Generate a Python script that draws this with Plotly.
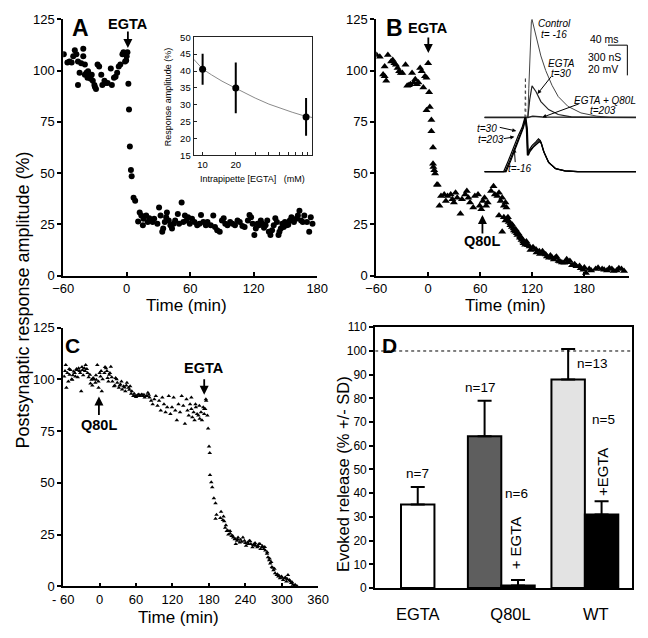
import plotly.graph_objects as go

W, H = 648, 638
def px(x): return x / W
def py(y): return 1 - y / H

FONT = "Liberation Sans, Arial, sans-serif"

# ---------------- DATA ----------------
# Panel A : EGTA wash-in (time in min, response amplitude %)
A_time = [-59.4,-56,-54,-52,-50.5,-49,-47.5,-46,-46,-44.5,-43,-41,-41,-39.5,-39.5,-38,-37,-36.5,-35,-34,
          -33,-32,-30.5,-30,-29,-27.5,-26,-24,-23,-21,-20,-18,-15,-14,-12,-10.5,-9,-7.5,-6,-4,
          -3,-1.5,-0.5,0,0.7,1.6,
          2.2,3,4,4.7,6.5,8,
          10.8,12.3,13.8,15.3,15.9,18.4,19.9,21.4,24.5,26,29,30.6,32,33.6,34.5,36,37.3,38,39.7,41.3,
          42.8,44.3,45.8,48.3,49.5,51.9,53.5,55,56.5,58,59.6,61.7,64,66.6,68.7,70.2,72.4,74.8,76.3,79.4,
          81.8,83.4,85.5,87.9,90,91.6,93.1,95.2,97.7,100,102.3,104.7,106.8,109.3,111.4,114.5,116,117.5,119,120.6,
          122,123.6,125,126.7,128.2,129.7,131.2,132.8,134.3,135.8,137.3,138.9,140.4,141.9,143.4,144.3,145.6,147,148.3,149.5,
          151,152.6,154.1,155.6,158,160.2,161.7,163.2,164.7,166.3,167.8,170.3,172.4,173.9,175.5]
A_amp = [108,104,104.5,104,107,110,108,104.5,93,99,103.6,110.7,107,103,98,99,96.5,99.7,97,96,
         98,95,93,92,91,103,102,98,93,95,94,94,101,93,96.5,97,99,102,103,108,
         109,104.5,105,107,109,93.6,
         81,63,51.5,48.5,38,36.5,
         26.4,30.8,29.3,24.5,27.7,29.3,26.1,28,26.1,27.7,25.3,33.2,29.3,21.4,22.9,26.1,28.5,30.8,26.9,24.5,
         22.9,25.3,26.9,30,25.3,35.6,26.1,29.3,26.9,28.5,25.3,27.7,26.1,24.5,25.3,29.6,26.1,24.5,26.1,24.5,
         29.3,23.7,22.1,21.4,26.9,28,25.3,24.5,26.1,25.3,24.5,26.9,26.1,24.2,23.7,26.9,29.6,28.5,25.3,19.8,
         22.9,25.3,24.5,26.9,25.3,23.3,24.5,26.9,21.4,19.8,22.1,24.5,28,26.1,19.8,21.4,22.9,25.3,23.7,26.1,
         24.5,24.8,26.9,28.5,26.1,27.7,29.3,31.6,26.9,26.1,29.3,26.1,21.4,28.5,25.3]

# Panel A inset: response amplitude vs intrapipette EGTA (mM)
A_ins_egta = [10, 20, 87]
A_ins_amp = [40.5, 35, 26.4]
A_ins_sd = [4.6, 7.5, 5.6]
A_fit_egta = [8.3, 10, 12, 15, 20, 30, 40, 50, 65, 80, 100]
A_fit_amp = [43.5, 40.6, 38.9, 37, 34.9, 32, 30.2, 29, 27.8, 26.9, 26.2]

# Panel B : EGTA then Q80L
B_time = [-59.5,-55.8,-50.2,-52,-50.2,-48.4,-46.5,-42.8,-40.9,-39,-37.2,-35.3,-33.5,-31.6,-29.8,-26.1,-24.2,-22.3,-20.5,-18.6,
          -16.7,-14.9,-13,-11.2,-9.3,-7.5,-5.6,-3.7,-1.9,0,1.1,-1.9,1.9,3.7,3.7,5.6,
          5.6,6,7,8,10,
          11.1,14.8,13,18.5,20.4,22.3,26,27.9,29.7,31.6,33.5,37.2,39,42.7,44.6,46.4,48.3,52,53.9,57.5,
          59.4,61.3,63.1,65,66.9,68.7,72.5,75.4,76.9,79.8,81.7,83.6,85.4,87.3,89.2,90.3,81.7,85.4,87.3,89.2,
          91,92.9,94.8,96.6,98.5,100.4,102.2,104,105.9,107.7,109.6,113.3,117,120.7,124.4,128.2,131.9,135.6,139.4,143,
          146.7,150.5,154.2,159.8,163.5,169,174.6,180.2,185.8,193.2,200.7,206.3,211.9,217.4,223,
          92,95,97,99,101,103,106,108,110,112,115,118,121,125,129,133,137,141,145,148,
          152,157,161,166,171,176,179,182,188,196,203,209,214,220,226]
B_amp = [107.6,106.8,102,98.1,97.3,95,107.6,104.4,105.2,103.6,102.9,101.3,99.7,98.9,98.9,102.9,92.6,92.9,93.4,98.9,
         94.2,95.8,93.4,94.2,101.3,99.7,91.8,97.3,96.5,103.6,89.4,80.7,82.3,75.9,70.4,62.5,
         54.6,53,51.4,49.8,44.3,
         44.3,38.8,34,39.6,36.4,38.8,39.6,37.2,35.6,40.4,38,30.1,37.2,39.6,41.2,38,35.6,33.2,38.8,39.6,
         34,32.4,36.4,38,34,35.6,41.2,43.6,39.6,38.8,40.4,36.4,38,34,35.6,33.2,29.3,21.4,28.5,26.9,
         27.7,26.1,24.5,23.7,22.9,21.4,20.6,20.6,19,17.4,16.6,16.6,14.2,13.4,12.7,11.9,11.9,10.3,8.7,8.7,
         8.7,7.1,6.3,7.9,7.1,5.5,4.7,3.9,3.2,3.2,3.2,2.4,3.2,2.4,3.2,
         28.5,25.5,24.8,22,22.5,19.8,18.5,18.2,15.8,15,14.8,12.5,13.8,11.2,10.5,10.8,9.3,9.8,7.8,9.2,
         6.8,6.2,6.5,5,4.5,3.5,2.8,1.2,2.5,3.8,2.8,3.5,2.2,3.6,2.2]

# Panel B inset: conductance traces (ms, nS)
ctrl_ms = [0, 90, 92, 94.7, 97.3, 98.7, 103, 110, 117, 127, 140, 153, 173, 200, 233, 260, 314]
ctrl_nS = [0, 0, 290, 708, 950, 973, 886, 740, 611, 466, 320, 207, 110, 45, 13, 0, 0]
egta_ms = [0, 90, 94, 98.7, 107, 117, 133, 153, 180, 220, 314]
egta_nS = [0, 0, 180, 313, 255, 158, 78, 29, 5, 0, 0]
q80l_ms = [0, 90, 100, 120, 314]
q80l_nS = [0, 0, 12, 4, 0]
artifact_ms = [84, 85, 86]
artifact_nS = [0, 400, 0]
# presynaptic voltage traces (ms, mV)
v16_ms = [0,40,50,60,70,78,84,87,89,92,99,106,112,116,122,132,146,166,192,314]
v16_mV = [-70,-70,-62.5,-53.8,-46.3,-40.9,-34.2,-41.9,-59.2,-56,-52.7,-50.5,-48.4,-49.5,-56,-63.5,-67.8,-69.5,-70,-70]
v30_ms = [0,43,53,63,73,80,85,88,90,93,100,107,113,117,123,133,147,167,193,314]
v30_mV = [-70,-70,-62.5,-53.8,-46.3,-40.9,-34.2,-41.9,-59.2,-56.5,-53.5,-51.3,-49.5,-50.5,-57,-64,-68,-69.6,-70,-70]
v203_ms = [0,45,55,65,75,81,86,89,91,94,101,108,114,118,124,134,148,168,194,314]
v203_mV = [-70,-70,-62.5,-53.8,-46.3,-40.9,-34.2,-41.9,-59.2,-57,-54,-52,-50.3,-51.2,-57.5,-64.3,-68.2,-69.6,-70,-70]
SB_MS, SB_NS, SB_MV = 40, 300, 20

# Panel C : Q80L then EGTA
C_time = [-58.4,-55.7,-54.7,-51.5,-49.4,-47.8,-45.1,-42.5,-39.8,-37.2,-34.5,-31.9,-30.3,-28.2,-25,-22.9,-19.7,-16,-13.3,-10.7,
          -7,-5.4,-3.8,-1.7,1.5,3.6,7.9,10.5,13.2,15.8,18.5,21.1,23.8,26.4,29.1,31.7,34.4,37.1,39.7,42.4,
          45,47.7,50.3,53,55.6,58.3,61,63.6,66.2,68.9,71.5,74.2,76.8,79.5,82.1,84.8,87.4,90.1,92.7,95.4,
          98,100.7,103.3,106,108.6,111.3,113.9,116.6,119.2,121.9,124.6,127.2,129.9,132.5,135.2,137.8,140.5,143.1,144.7,146.8,
          149,151.1,152.7,154.8,156.4,158.5,160.6,162.7,164.9,167,168.6,170.7,172.3,173.9,175.5,164.3,151.1,157.9,
          -57,-53,-50,-46,-44,-41,-38,-36,-33,-29,-27,-24,-21,-18,-15,-12,-9,-6,-2,0,
          2.5,5,9,12,14.5,17,20,25,28,33,36,41,44,49,52,57,60,65,70,73,78,81,
          175,172.3,177.5,178.7,180.2,181.4,181.8,183.9,185.5,188.2,190.9,192.5,190.9,198.8,204.1,205.2,206.8,209.4,212.1,214.8,
          217.3,220,222.7,224.3,226.4,228,230.7,236,238.6,241.2,243.9,246.6,249.1,251.8,254.5,257.1,259.8,262.5,265,267.7,
          270.4,273,275.7,277.3,279.4,281,282.6,283.7,286.4,289,291.7,294.3,297,299.6,302.3,304.8,307.5,310.2,312.7,315.5,
          318.2,320.7,
          200,203,208,211,215,219,223,227,232,234,240,245,248,253,256,261,264,268,272,276,
          280,285,288,293,296,301,306,309,314,317,322,325]
C_amp = [101.4,106.9,95.9,99,102.2,104.5,99.8,103.8,101.4,104.5,105.3,103,94.3,104.5,105.3,106.9,103,102.2,99.8,100.6,
         98.3,99.8,106.9,95.9,101.4,94.3,103,105.3,100.6,102.2,106.1,99,96.7,100.6,98.3,95.9,97.5,95.1,96.7,94.3,
         98.3,95.9,96.7,94.3,92,92,92,92.7,92,92.7,92,91.2,92,93.5,91.2,89.6,88,90.4,92,87.2,
         89.6,84.9,91.2,88,84.1,86.5,92,83.3,86.5,91.2,84.9,80.2,88,84.1,92,87.2,78.6,90.4,84.9,82.5,
         88,85.7,81.7,84.1,80.2,86.5,83.3,82.5,80.9,84.1,80.2,86.5,83.3,85.7,89.6,87.2,91.2,88,
         104,103,105,100,102,103,105,101,104,106,102,104,105,101,98,97,100,102,99,103,
         104,100,106,104,99,103,101,97,100,97,99,96,97,95,93,93,91.5,92.5,92.5,92.5,92,92.5,
         90.4,85.7,82.5,76.2,67.6,64.4,53.8,50.3,47.9,42.5,40.1,34.6,32.7,33,33.8,31.4,28.3,26.7,25.1,26.7,
         24.3,23.6,22.8,20.4,22,23.6,21.2,23.6,22,19.6,21.2,22,20.4,18.9,20.4,19.6,18.9,20.4,18.1,18.9,
         18.1,17.3,15.7,14.1,12.6,11,11.8,9.4,7.8,6.3,5.5,4.7,3.9,4.7,3.1,3.9,2.4,5.5,3.1,1.6,
         0.8,0.3,
         36,32,29.5,27,25.5,24.5,23,22.8,22.5,21.5,21,20.5,21.8,20,21,19.5,20.5,19.5,19,16.5,
         13.5,9,8.5,5.8,5,4.2,4.3,3.5,2.5,2,0.8,0.2]

# Panel D : evoked release (% +/- SD)
D_groups = ["EGTA", "Q80L", "WT"]
D_ctrl = [35.2, 64.0, 88.0]
D_ctrl_sd = [7.4, 15.0, 12.8]
D_ctrl_n = ["n=7", "n=17", "n=13"]
D_ctrl_colors = ["white", "#5e5e5e", "#e3e3e3"]
D_egta_groups = ["Q80L", "WT"]
D_egta = [1.1, 31.0]
D_egta_sd = [2.3, 5.6]
D_egta_n = ["n=6", "n=5"]
D_egta_lbl = ["+ EGTA", "+EGTA"]

# ---------------- FIGURE ----------------
fig = go.Figure()

# Panel A
fig.add_trace(go.Scatter(x=A_time, y=A_amp, mode="markers", xaxis="x", yaxis="y",
                         marker=dict(symbol="circle", size=6, color="black")))
fig.add_trace(go.Scatter(x=A_fit_egta, y=A_fit_amp, mode="lines", xaxis="x2", yaxis="y2",
                         line=dict(color="#8a8a8a", width=1)))
fig.add_trace(go.Scatter(x=A_ins_egta, y=A_ins_amp, mode="markers", xaxis="x2", yaxis="y2",
                         marker=dict(size=7, color="black"),
                         error_y=dict(type="data", array=A_ins_sd, color="black", thickness=2, width=0)))
# Panel B
fig.add_trace(go.Scatter(x=B_time, y=B_amp, mode="markers", xaxis="x3", yaxis="y3",
                         marker=dict(symbol="triangle-up", size=7, color="black")))
for xs, ys, col, wd, dash in [(ctrl_ms, ctrl_nS, "#444444", 1, "solid"),
                              (egta_ms, egta_nS, "#222222", 1.2, "solid"),
                              (q80l_ms, q80l_nS, "#222222", 1.5, "solid"),
                              (artifact_ms, artifact_nS, "#444444", 1, "dot")]:
    fig.add_trace(go.Scatter(x=xs, y=ys, mode="lines", xaxis="x4", yaxis="y4",
                             line=dict(color=col, width=wd, dash=dash)))
V_REST_NS = -537
for xs, vs in [(v16_ms, v16_mV), (v30_ms, v30_mV), (v203_ms, v203_mV)]:
    ys = [V_REST_NS + (v - (-70)) * SB_NS / SB_MV for v in vs]
    fig.add_trace(go.Scatter(x=xs, y=ys, mode="lines", xaxis="x4", yaxis="y4",
                             line=dict(color="black", width=1.2)))
# Panel C
fig.add_trace(go.Scatter(x=C_time, y=C_amp, mode="markers", xaxis="x5", yaxis="y5",
                         marker=dict(symbol="triangle-up", size=4, color="black")))
# Panel D
gidx = {g: i for i, g in enumerate(D_groups)}
BW = 0.4
ctrl_x = [gidx[g] for g in D_groups]
ctrl_off = [-BW / 2 if g not in D_egta_groups else -BW for g in D_groups]
egta_x = [gidx[g] for g in D_egta_groups]
fig.add_trace(go.Bar(x=ctrl_x, y=D_ctrl, width=BW, offset=ctrl_off, xaxis="x6", yaxis="y6",
                     marker=dict(color=D_ctrl_colors, line=dict(color="black", width=2)),
                     error_y=dict(type="data", array=D_ctrl_sd, arrayminus=[0] * 3, symmetric=False,
                                  color="black", thickness=2, width=7)))
fig.add_trace(go.Bar(x=egta_x, y=D_egta, width=BW, offset=0, xaxis="x6", yaxis="y6",
                     marker=dict(color="black", line=dict(color="black", width=2)),
                     error_y=dict(type="data", array=D_egta_sd, arrayminus=[0] * 2, symmetric=False,
                                  color="black", thickness=2, width=7)))

# ---------------- AXES ----------------
def main_x(dom, rng, tv, tt=None):
    d = dict(domain=dom, range=rng, tickvals=tv, showline=True, linecolor="black", linewidth=1.5,
             ticks="inside", ticklen=4, tickwidth=1.5, tickcolor="black", showgrid=False, zeroline=False,
             tickfont=dict(size=13, family=FONT, color="black"))
    if tt is not None:
        d["ticktext"] = tt
    return d

def main_y(dom, anchor):
    return dict(domain=dom, range=[0, 125], tickvals=[0, 25, 50, 75, 100, 125], showline=True,
                linecolor="black", linewidth=1.5, ticks="outside", ticklen=4, tickwidth=1.5,
                tickcolor="black", showgrid=False, zeroline=False, anchor=anchor,
                tickfont=dict(size=13, family=FONT, color="black"))

top_dom = [py(275), py(12.7)]
bot_dom = [py(593.3), py(328.3)]

layout = dict(
    width=W, height=H, margin=dict(l=0, r=0, t=0, b=0), showlegend=False,
    paper_bgcolor="white", plot_bgcolor="rgba(0,0,0,0)", barmode="overlay",
    font=dict(family=FONT, color="black"),
    xaxis=main_x([px(54), px(317)], [-60, 180], [-60, 0, 60, 120, 180]),
    yaxis=main_y(top_dom, "x"),
    xaxis3=main_x([px(378), px(640)], [-60, 232], [-60, 0, 60, 120, 180]),
    yaxis3=main_y(top_dom, "x3"),
    xaxis5=main_x([px(54), px(318)], [-60, 360], [-60, 0, 60, 120, 180, 240, 300, 360],
                  ["- 60", "0", "60", "120", "180", "240", "300", "360"]),
    yaxis5=main_y(bot_dom, "x5"),
)
layout["xaxis"]["anchor"] = "y"
layout["xaxis3"]["anchor"] = "y3"
layout["xaxis5"]["anchor"] = "y5"

# inset A
layout["xaxis2"] = dict(domain=[px(189), px(312)], type="log", range=[0.918, 1.997], anchor="y2",
                        tickvals=[10, 20, 30, 40, 50, 60, 70, 80, 90, 100],
                        ticktext=["10", "20", "", "", "", "", "", "", "", "100"],
                        showline=True, mirror=True, linecolor="#222", linewidth=1, ticks="inside",
                        ticklen=3, tickcolor="#222", showgrid=False, zeroline=False,
                        tickfont=dict(size=9.5, family=FONT, color="black"))
layout["yaxis2"] = dict(domain=[py(152), py(31)], range=[15, 50], dtick=5, anchor="x2",
                        showline=True, mirror=True, linecolor="#222", linewidth=1, ticks="inside",
                        ticklen=3, tickcolor="#222", showgrid=False, zeroline=False,
                        tickfont=dict(size=9.5, family=FONT, color="black"))
# inset B
layout["xaxis4"] = dict(domain=[px(490), px(647)], range=[0, 314], anchor="y4", visible=False)
layout["yaxis4"] = dict(domain=[py(175), py(10)], range=[-600, 1000], anchor="x4", visible=False)
# panel D
layout["xaxis6"] = dict(domain=[px(377), px(643)], range=[-0.509, 2.566], anchor="y6",
                        tickvals=[0, 1.11, 2.13], ticktext=D_groups, ticks="", showline=True,
                        mirror=True, linecolor="black", linewidth=2, showgrid=False, zeroline=False,
                        ticklabelstandoff=10, tickfont=dict(size=16.5, family=FONT, color="black"))
layout["yaxis6"] = dict(domain=[py(595), py(328)], range=[0, 110], dtick=10, anchor="x6",
                        showline=True, mirror=True, linecolor="black", linewidth=2, ticks="outside",
                        ticklen=4, tickwidth=1.5, tickcolor="black", showgrid=False, zeroline=False,
                        tickfont=dict(size=12, family=FONT, color="black"))
fig.update_layout(**layout)

# ---------------- SHAPES ----------------
fig.add_shape(type="line", xref="x6", yref="y6", x0=-0.509, x1=2.566, y0=100, y1=100,
              line=dict(color="black", width=1, dash="dot"))
SB_X1 = 296
SB_Y1 = 718
fig.add_shape(type="line", xref="x4", yref="y4", x0=SB_X1 - SB_MS, x1=SB_X1, y0=SB_Y1, y1=SB_Y1,
              line=dict(color="black", width=1))
fig.add_shape(type="line", xref="x4", yref="y4", x0=SB_X1, x1=SB_X1, y0=SB_Y1, y1=SB_Y1 - SB_NS,
              line=dict(color="black", width=1))

# ---------------- ANNOTATIONS ----------------
ann = []
def text(x, y, s, size, angle=0, xanchor="center", yanchor="middle"):
    ann.append(dict(x=px(x), y=py(y), xref="paper", yref="paper", text=s, showarrow=False,
                    font=dict(size=size, family=FONT, color="black"), textangle=angle,
                    xanchor=xanchor, yanchor=yanchor))

def arrow(tx, ty, sx, sy, w=1.8, size=1.0):
    ann.append(dict(x=px(tx), y=py(ty), xref="paper", yref="paper", text="", showarrow=True,
                    ax=sx - tx, ay=sy - ty, arrowhead=2, arrowsize=size, arrowwidth=w,
                    arrowcolor="black"))

# axis titles
text(12, 300, "Postsynaptic response amplitude (%)", 18, angle=-90)
text(182, 306, "Time (min)", 17)
text(512, 306, "Time (min)", 17)
text(173, 625, "Time (min)", 17)
text(343, 478, "Evoked release (% +/- SD)", 16.5, angle=-90)
# inset A titles
text(162, 92, "Response amplitude (%)", 9, angle=-90)
text(250, 176, "Intrapipette [EGTA]   (mM)", 9)
# panel letters
text(72, 22, "<b>A</b>", 23)
text(397, 22, "<b>B</b>", 23)
text(64, 347, "<b>C</b>", 21)
text(392, 347, "<b>D</b>", 21)
# treatment arrows
text(121, 17, "<b>EGTA</b>", 14.5); arrow(121, 42, 121, 24)
text(432, 22, "<b>EGTA</b>", 14.5); arrow(432, 47, 432, 30)
text(488, 240, "<b>Q80L</b>", 14.5); arrow(488, 213, 488, 233)
text(200, 370, "<b>EGTA</b>", 14.5); arrow(200, 397, 200, 380)
text(91, 428, "<b>Q80L</b>", 14.5); arrow(91, 399, 91, 419)
# inset B labels
text(563, 17, "<i>Control</i>", 10)
text(562, 28, "<i>t= -16</i>", 10)
text(570, 58, "<i>EGTA</i>", 10)
text(569, 68, "<i>t=30</i>", 10)
text(615, 96, "<i>EGTA + Q80L</i>", 10)
text(613, 106, "<i>t=203</i>", 10)
text(493, 124, "<i>t=30</i>", 10)
text(497, 136, "<i>t=203</i>", 10)
text(527, 165, "<i>t=-16</i>", 10)
text(614, 33, "40 ms", 10.5)
text(614, 51, "300 nS", 10.5)
text(613, 64, "20 mV", 10.5)
arrow(545, 89, 560, 70, w=1, size=0.8)
arrow(550, 113, 588, 99, w=1, size=0.8)
arrow(523, 127, 505, 123, w=1, size=0.8)
arrow(521, 133, 509, 135, w=1, size=0.8)
arrow(521, 145, 522, 160, w=1, size=0.8)
# panel D counts / labels (data coordinates)
def dtext(x, y, s, size=13.5, angle=0):
    ann.append(dict(x=x, y=y, xref="x6", yref="y6", text=s, showarrow=False, textangle=angle,
                    font=dict(size=size, family=FONT, color="black")))
dtext(0, 48.5, D_ctrl_n[0])
dtext(0.75, 84.5, D_ctrl_n[1])
dtext(2.09, 94.7, D_ctrl_n[2])
dtext(1.18, 40, D_egta_n[0])
dtext(2.22, 71, D_egta_n[1])
dtext(1.18, 19, D_egta_lbl[0], size=15, angle=-90)
dtext(2.22, 49, D_egta_lbl[1], size=15, angle=-90)

fig.update_layout(annotations=ann)
fig.write_html("out.html", config={"displayModeBar": False},
               post_script="document.body.style.margin='0';document.body.style.overflow='hidden';")
